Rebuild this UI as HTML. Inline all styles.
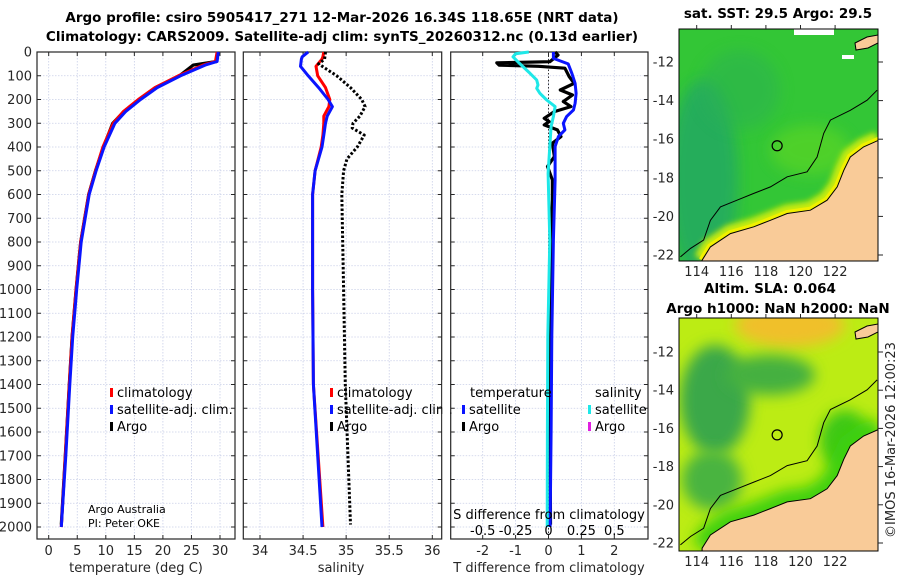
<!DOCTYPE html>
<html><head><meta charset="utf-8"><style>
html,body{margin:0;padding:0;background:#fff;}
svg{display:block;font-family:"DejaVu Sans","Liberation Sans",sans-serif;}
</style></head><body>
<svg id="fig" width="900" height="580" viewBox="0 0 900 580" xmlns="http://www.w3.org/2000/svg">
<defs>
<filter id="blur6" x="-100%" y="-100%" width="300%" height="300%"><feGaussianBlur stdDeviation="7"/></filter>
<filter id="blur3" x="-100%" y="-100%" width="300%" height="300%"><feGaussianBlur stdDeviation="3"/></filter>
<clipPath id="clipTop"><rect x="679" y="29" width="199" height="232"/></clipPath>
<clipPath id="clipBot"><rect x="679" y="318" width="199" height="233"/></clipPath>
</defs>
<g font-weight="bold" font-size="13.5" fill="#000" text-anchor="middle">
<text x="342" y="22">Argo profile: csiro 5905417_271 12-Mar-2026 16.34S 118.65E (NRT data)</text>
<text x="342" y="41">Climatology: CARS2009. Satellite-adj clim: synTS_20260312.nc (0.13d earlier)</text>
</g>
<g id="p1"></g>
<g id="p2"></g>
<g id="p3"></g>
<g id="m1"></g>
<g id="m2"></g>
<text x="778" y="18" font-weight="bold" font-size="13.5" text-anchor="middle">sat. SST: 29.5 Argo: 29.5</text>
<text x="770" y="293" font-weight="bold" font-size="13.5" text-anchor="middle">Altim. SLA: 0.064</text>
<text x="778" y="313" font-weight="bold" font-size="13.5" text-anchor="middle">Argo h1000: NaN h2000: NaN</text>
<text transform="translate(895,440) rotate(-90)" font-size="13" fill="#262626" text-anchor="middle">©IMOS 16-Mar-2026 12:00:23</text>
</svg>
<script>
// ---------- DATA ----------
const depthT = [0,40,55,100,150,200,250,300,400,500,600,700,800,1000,1200,1400,1700,2000];
const tempClim = [29.5,29.2,27.0,22.7,18.6,15.7,13.1,11.3,9.5,8.2,7.0,6.3,5.6,4.8,4.1,3.6,2.9,2.2];
const tempSat  = [29.7,29.5,27.4,23.1,19.0,16.1,13.5,11.6,9.7,8.3,7.1,6.4,5.7,4.9,4.2,3.7,3.0,2.2];
const depthArgoT = [0,40,55,100,150,200,250,300,400,500,600,700,800,1000,1200,1400,1700,1990];
const tempArgo = [29.6,29.4,25.3,22.9,18.7,15.8,13.2,11.2,9.6,8.2,7.0,6.3,5.6,4.8,4.1,3.6,2.9,2.2];

const depthS = [0,20,30,60,100,150,200,230,270,300,350,400,500,600,1000,1400,2000];
const salSat  = [34.56,34.49,34.48,34.47,34.56,34.68,34.79,34.84,34.78,34.76,34.74,34.72,34.64,34.61,34.61,34.62,34.72];
const salClim = [34.74,34.73,34.72,34.65,34.67,34.76,34.81,34.80,34.74,34.74,34.73,34.71,34.64,34.61,34.61,34.62,34.73];
const depthArgoS = [0,30,50,100,150,200,230,270,300,320,350,400,450,500,600,1000,1400,1990];
const salArgo = [34.76,34.75,34.68,34.89,35.05,35.18,35.22,35.16,35.08,35.07,35.21,35.13,35.01,34.97,34.95,34.97,34.99,35.05];

const depthDA = [0,13,41,46,55,60,68,104,132,160,181,209,230,251,279,293,307,328,356,384,440,482,539,623,792,1000,1300,1600,1990];
const dTArgo = [0.2,0.29,0.04,-1.57,-1.5,-0.3,0.5,0.63,0.78,0.36,0.73,0.45,0.68,0.18,-0.13,0.02,-0.13,0.27,0.38,0.12,0.18,-0.03,0.12,0.12,0.07,0.05,0.06,0.05,0.06];
const depthDS = [0,27,50,90,132,174,216,244,272,300,328,356,398,539,792,1200,1600,2000];
const dTSat = [0.15,0.15,0.6,0.71,0.81,0.84,0.81,0.76,0.55,0.45,0.5,0.3,0.2,0.2,0.15,0.1,0.08,0.05];
const depthDSS = [0,7,20,48,90,118,139,153,174,202,230,272,314,398,511,792,1200,1600,2000];
const dSSat = [-0.15,-0.25,-0.27,-0.22,-0.14,-0.09,-0.08,-0.09,-0.065,-0.014,0.05,0.037,0.02,0.01,-0.003,0.01,-0.005,-0.008,-0.01];

const depthTicks = [0,100,200,300,400,500,600,700,800,900,1000,1100,1200,1300,1400,1500,1600,1700,1800,1900,2000];
const tempTicks = [0,5,10,15,20,25,30];
const salTicks = [34,34.5,35,35.5,36];
const salTickLabels = ["34","34.5","35","35.5","36"];
const dTTicks = [-2,-1,0,1,2];
const dSTicks = [-0.5,-0.25,0,0.25,0.5];
const dSTickLabels = ["-0.5","-0.25","0","0.25","0.5"];

const coastLon = [114.31,114.79,115.95,117.30,118.26,119.23,120.57,121.54,122.12,122.50,122.88,123.65,124.52];
const coastLat = [-22.27,-21.58,-20.89,-20.54,-20.20,-19.85,-19.68,-19.16,-18.47,-17.61,-16.92,-16.40,-16.05];
const isoLon = [113.06,113.64,114.40,114.79,115.37,116.33,117.30,118.26,119.23,120.38,120.96,121.34,121.73,122.88,123.85,124.43];
const isoLat = [-22.10,-21.66,-21.23,-20.20,-19.51,-19.16,-18.81,-18.47,-17.95,-17.69,-16.92,-15.70,-15.01,-14.50,-13.98,-13.46];
const lonTicks = [114,116,118,120,122];
const latTicks = [-12,-14,-16,-18,-20,-22];
const argoLon = 118.65, argoLat = -16.34;

// ---------- HELPERS ----------
const NS = "http://www.w3.org/2000/svg";
function mk(parent, tag, attrs){ const e=document.createElementNS(NS,tag); for(const k in attrs) e.setAttribute(k,attrs[k]); parent.appendChild(e); return e; }
const TOP=52, BOT=539;
function yD(d){ return 52 + d*0.2375; }
function lin(d0,d1,r0,r1){ return v => r0 + (v-d0)*(r1-r0)/(d1-d0); }

function panel(g, x0, x1, xs, xticks, xlabels, gridTicks, showY){
  const grid = mk(g,'g',{});
  
  
  gridTicks.forEach(t=>{ mk(grid,'line',{x1:xs(t),x2:xs(t),y1:TOP,y2:BOT,stroke:'#c9cfe8','stroke-width':0.8,'stroke-dasharray':'1.5,1.5'}); });
  depthTicks.forEach(d=>{ mk(grid,'line',{x1:x0,x2:x1,y1:yD(d),y2:yD(d),stroke:'#c9cfe8','stroke-width':0.8,'stroke-dasharray':'1.5,1.5'}); });
  const ax = mk(g,'g',{});
  
  
  depthTicks.forEach(d=>{
    mk(ax,'line',{x1:x0,x2:x0+4,y1:yD(d),y2:yD(d),stroke:'#262626','stroke-width':1});
    mk(ax,'line',{x1:x1,x2:x1-4,y1:yD(d),y2:yD(d),stroke:'#262626','stroke-width':1});
    if(showY){ const t=mk(ax,'text',{x:x0-5,y:yD(d)+4.5,'font-size':13,'text-anchor':'end',fill:'#262626'}); t.textContent=d;
        }
  });
  xticks.forEach((v,i)=>{
    mk(ax,'line',{x1:xs(v),x2:xs(v),y1:BOT,y2:BOT-4,stroke:'#262626','stroke-width':1});
    mk(ax,'line',{x1:xs(v),x2:xs(v),y1:TOP,y2:TOP+4,stroke:'#262626','stroke-width':1});
    if(xlabels){ const t=mk(ax,'text',{x:xs(v),y:555,'font-size':13,'text-anchor':'middle',fill:'#262626'}); t.textContent=xlabels[i];
        }
  });
  mk(ax,'rect',{x:x0,y:TOP,width:x1-x0,height:BOT-TOP,fill:'none',stroke:'#262626','stroke-width':1.2});
}
function line(g, xs, vals, deps, color, w, name, dash){
  const pts = vals.map((v,i)=>xs(v).toFixed(1)+','+yD(deps[i]).toFixed(1)).join(' ');
  const p = mk(g,'polyline',{points:pts,fill:'none',stroke:color,'stroke-width':w,'stroke-linejoin':'round'});
  if(dash) p.setAttribute('stroke-dasharray',dash);
  
  
  return p;
}
function legendEntry(g,x,y,color,label,name){
  const e = mk(g,'g',{});
  
  
  mk(e,'rect',{x:x,y:y-9,width:3,height:9,fill:color});
  const t = mk(e,'text',{x:x+7,y:y,'font-size':13,fill:'#000'}); t.textContent=label;
}

// ---------- PANEL 1 ----------
const p1 = document.getElementById('p1');
const xT = lin(0,30,48.7,220);
panel(p1,37,235,xT,tempTicks,tempTicks.map(String),tempTicks,true);
line(p1,xT,tempArgo,depthArgoT,'#000',3.2,'argo-temperature-line');
line(p1,xT,tempClim,depthT,'#ff0000',3,'climatology-temperature-line');
line(p1,xT,tempSat,depthT,'#0a14ff',3,'satellite-temperature-line');
{ const t=mk(p1,'text',{x:136,y:572,'font-size':13,'text-anchor':'middle',fill:'#262626'}); t.textContent='temperature (deg C)';
    }
{ const lg=mk(p1,'g',{});  
  legendEntry(lg,110,397,'#ff0000','climatology','legend-entry-climatology');
  legendEntry(lg,110,414,'#0a14ff','satellite-adj. clim.','legend-entry-satellite');
  legendEntry(lg,110,431,'#000','Argo','legend-entry-argo'); }
{ const t=mk(p1,'text',{x:88,y:513,'font-size':11,fill:'#000'}); t.textContent='Argo Australia';
   
  const t2=mk(p1,'text',{x:88,y:527,'font-size':11,fill:'#000'}); t2.textContent='PI: Peter OKE';
    }

// ---------- PANEL 2 ----------
const p2 = document.getElementById('p2');
const xS = lin(34,36,260,432.3);
panel(p2,243.3,441.7,xS,salTicks,salTickLabels,salTicks,false);
line(p2,xS,salClim,depthS,'#ff0000',3,'climatology-salinity-line');
line(p2,xS,salSat,depthS,'#0a14ff',3,'satellite-salinity-line');
line(p2,xS,salArgo,depthArgoS,'#000',3,'argo-salinity-line','2.5,2');
{ const t=mk(p2,'text',{x:341,y:572,'font-size':13,'text-anchor':'middle',fill:'#262626'}); t.textContent='salinity';
    }
{ const lg=mk(p2,'g',{});  
  legendEntry(lg,330,397,'#ff0000','climatology','legend-entry-climatology');
  legendEntry(lg,330,414,'#0a14ff','satellite-adj. clim.','legend-entry-satellite');
  legendEntry(lg,330,431,'#000','Argo','legend-entry-argo'); }
mk(p2,'rect',{x:442.3,y:380,width:7.5,height:60,fill:'#fff'});

// ---------- PANEL 3 ----------
const p3 = document.getElementById('p3');
const xDT = lin(-2,2,482.7,614.3);
const xDS = v => xDT(v*4);
panel(p3,450.7,648,xDT,dTTicks,dTTicks.map(String),dTTicks,false);
mk(p3,'line',{x1:xDT(0),x2:xDT(0),y1:TOP,y2:BOT,stroke:'#333','stroke-width':1,'stroke-dasharray':'1.5,2'});
line(p3,xDT,dTArgo,depthDA,'#000',3.2,'argo-temperature-difference-line');
line(p3,xDT,dTSat,depthDS,'#0a14ff',3,'satellite-temperature-difference-line');
line(p3,xDS,dSSat,depthDSS,'#1ee8e8',3,'satellite-salinity-difference-line');
{ const t=mk(p3,'text',{x:549,y:572,'font-size':13,'text-anchor':'middle',fill:'#262626'}); t.textContent='T difference from climatology';
   
  const t2=mk(p3,'text',{x:549,y:519,'font-size':13,'text-anchor':'middle',fill:'#000'}); t2.textContent='S difference from climatology';
   
  dSTicks.forEach((v,i)=>{ const l=mk(p3,'text',{x:xDS(v),y:535,'font-size':13,'text-anchor':'middle',fill:'#000'}); l.textContent=dSTickLabels[i];
      }); }
{ const lg=mk(p3,'g',{});  
  const a=mk(lg,'text',{x:470,y:397,'font-size':13,fill:'#000'}); a.textContent='temperature';
   
  const b=mk(lg,'text',{x:595,y:397,'font-size':13,fill:'#000'}); b.textContent='salinity';
   
  legendEntry(lg,462,414,'#0a14ff','satellite','legend-entry-temperature-satellite');
  legendEntry(lg,462,431,'#000','Argo','legend-entry-temperature-argo');
  legendEntry(lg,588,414,'#1ee8e8','satellite','legend-entry-salinity-satellite');
  legendEntry(lg,588,431,'#e020e0','Argo','legend-entry-salinity-argo'); }

// ---------- MAPS ----------
function drawMap(g, top, bot, latY, clip, kind){
  const lonX = lon => 696.7 + (lon-114)*17.3;
  const body = mk(g,'g',{'clip-path':'url(#'+clip+')'});
  
  
  const coastPts = coastLon.map((l,i)=>lonX(l).toFixed(1)+','+latY(coastLat[i]).toFixed(1));
  const coastStr = coastPts.join(' ');
  const landStr = coastStr+' 900,'+latY(coastLat[coastLat.length-1]).toFixed(1)+' 900,600 '+lonX(coastLon[0]).toFixed(1)+',600';
  if(kind==='sst'){
    mk(body,'rect',{x:679,y:top,width:199,height:bot-top,fill:'#33c636'});
    mk(body,'ellipse',{cx:703,cy:180,rx:35,ry:100,fill:'#22a865',filter:'url(#blur6)','opacity':0.8});
    mk(body,'ellipse',{cx:740,cy:90,rx:40,ry:40,fill:'#2ab055',filter:'url(#blur6)','opacity':0.5});
    mk(body,'ellipse',{cx:810,cy:150,rx:40,ry:25,fill:'#60d820',filter:'url(#blur6)','opacity':0.6});
    mk(body,'polyline',{points:coastStr,fill:'none',stroke:'#c8ec10','stroke-width':18,filter:'url(#blur3)'});
    mk(body,'polyline',{points:coastStr,fill:'none',stroke:'#f0f000','stroke-width':7});
    mk(body,'rect',{x:794,y:29,width:40,height:6,fill:'#fff'});
    mk(body,'rect',{x:842,y:55,width:12,height:4,fill:'#fff'});
  } else {
    mk(body,'rect',{x:679,y:top,width:199,height:bot-top,fill:'#bcec14'});
    mk(body,'ellipse',{cx:790,cy:325,rx:55,ry:22,fill:'#f0c02a',filter:'url(#blur6)'});
    mk(body,'ellipse',{cx:715,cy:400,rx:35,ry:55,fill:'#3aa848',filter:'url(#blur6)'});
    mk(body,'ellipse',{cx:770,cy:375,rx:45,ry:20,fill:'#44b040',filter:'url(#blur6)'});
    mk(body,'ellipse',{cx:712,cy:480,rx:30,ry:30,fill:'#48b440',filter:'url(#blur6)'});
    mk(body,'ellipse',{cx:845,cy:440,rx:25,ry:30,fill:'#3cc818',filter:'url(#blur6)'});
    mk(body,'polyline',{points:coastStr,fill:'none',stroke:'#3cd010','stroke-width':24,filter:'url(#blur6)'});
  }
  const land = mk(body,'polygon',{points:landStr,fill:'#f9cb98',stroke:'#000','stroke-width':1});
  
  
  const iso = mk(body,'polyline',{points:isoLon.map((l,i)=>lonX(l).toFixed(1)+','+latY(isoLat[i]).toFixed(1)).join(' '),fill:'none',stroke:'#000','stroke-width':1});
  
  
  mk(body,'path',{d:'M855,'+(top+14)+' l12,-6 l11,-2 l0,8 l-10,5 l-12,2 z',fill:'#f9cb98',stroke:'#000','stroke-width':1});
  const c = mk(body,'circle',{cx:lonX(argoLon),cy:latY(argoLat),r:5,fill:'none',stroke:'#000','stroke-width':1.2});
  
  
  const ax = mk(g,'g',{});
  
  
  mk(ax,'rect',{x:679,y:top,width:199,height:bot-top,fill:'none',stroke:'#000','stroke-width':1});
  latTicks.forEach(l=>{
    mk(ax,'line',{x1:878,x2:883,y1:latY(l),y2:latY(l),stroke:'#262626'});
    const t=mk(ax,'text',{x:674,y:latY(l)+4.5,'font-size':13,'text-anchor':'end',fill:'#262626'}); t.textContent=l;
     
  });
  lonTicks.forEach(l=>{
    mk(ax,'line',{x1:lonX(l),x2:lonX(l),y1:top,y2:top-4,stroke:'#262626'});
    const t=mk(ax,'text',{x:lonX(l),y:bot+15,'font-size':13,'text-anchor':'middle',fill:'#262626'}); t.textContent=l;
     
  });
}
drawMap(document.getElementById('m1'),29,261,lat=>62+(-12-lat)*19.3,'clipTop','sst');
drawMap(document.getElementById('m2'),318,551,lat=>352+(-12-lat)*19.1,'clipBot','sla');
</script>
</body></html>
